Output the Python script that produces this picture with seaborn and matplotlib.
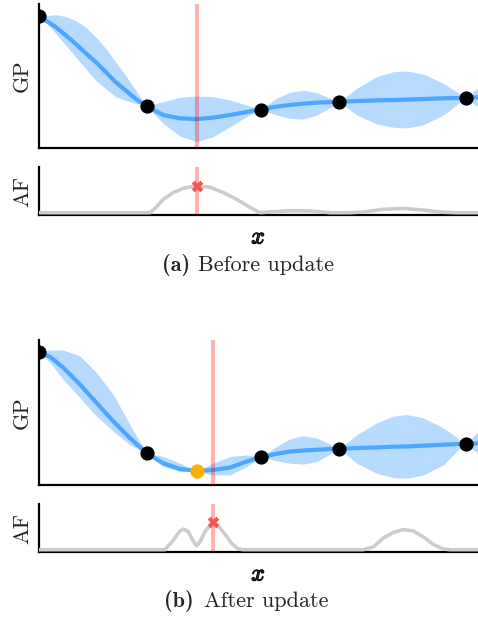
import matplotlib
matplotlib.use("Agg")
import matplotlib.pyplot as plt
import matplotlib.patheffects as pe
import seaborn as sns

# ---- GP posterior, before update (panel a) ----
grid_a = [0, 0.16, 0.39, 0.62, 0.84, 1.07, 1.30, 1.53, 1.75, 1.98, 2.21, 2.45,
          2.83, 3.21, 3.59, 3.97, 4.35, 4.73, 5.05, 5.41, 5.72, 6.02, 6.33, 6.63,
          6.84, 7.24, 7.69, 8.07, 8.38, 8.75, 9.21, 9.51, 9.73, 9.89, 10.0]
mean_a = [9.15, 8.84, 8.38, 7.80, 7.22, 6.57, 5.95, 5.25, 4.56, 3.98, 3.40, 2.90,
          2.29, 2.06, 2.01, 2.11, 2.29, 2.50, 2.67, 2.87, 2.99, 3.08, 3.15, 3.19,
          3.22, 3.26, 3.31, 3.33, 3.36, 3.40, 3.45, 3.47, 3.49, 3.52, 3.52]
upper_a = [9.15, 9.19, 9.26, 9.12, 8.84, 8.38, 7.69, 6.88, 5.95, 5.02, 3.98, 2.90,
           3.22, 3.52, 3.61, 3.56, 3.33, 2.99, 2.67, 3.45, 3.87, 4.01, 3.84, 3.45,
           3.22, 4.15, 4.95, 5.30, 5.35, 5.14, 4.49, 3.91, 3.49, 3.91, 4.19]
lower_a = [9.15, 8.73, 7.92, 7.10, 6.30, 5.49, 4.68, 4.10, 3.56, 3.29, 3.10, 2.90,
           1.71, 0.83, 0.44, 0.79, 1.48, 2.18, 2.67, 2.29, 2.06, 2.01, 2.29, 2.80,
           3.22, 2.29, 1.67, 1.44, 1.39, 1.60, 2.29, 2.99, 3.49, 3.10, 2.87]

# ---- GP posterior, after update (panel b) ----
grid_b = [0, 0.25, 0.55, 0.93, 1.31, 1.69, 2.07, 2.45, 2.83, 3.21, 3.59, 3.97,
          4.35, 4.73, 5.05, 5.41, 5.72, 6.02, 6.33, 6.63, 6.84, 7.24, 7.69, 8.07,
          8.38, 8.75, 9.21, 9.51, 9.73, 9.89, 10.0]
mean_b = [9.15, 8.84, 8.10, 6.94, 5.67, 4.40, 3.24, 2.20, 1.50, 1.11, 0.97, 1.04,
          1.20, 1.62, 1.92, 2.15, 2.31, 2.38, 2.43, 2.48, 2.50, 2.55, 2.59, 2.64,
          2.66, 2.71, 2.78, 2.82, 2.85, 2.86, 2.87]
upper_b = [9.15, 9.31, 9.31, 8.91, 7.75, 6.25, 4.17, 2.20, 1.97, 1.50, 0.97, 1.50,
           1.97, 2.08, 1.92, 2.66, 3.19, 3.40, 3.24, 2.82, 2.50, 3.47, 4.28, 4.75,
           4.86, 4.63, 3.94, 3.29, 2.85, 3.36, 3.66]
lower_b = [9.15, 8.45, 7.29, 6.02, 4.74, 3.70, 2.78, 2.20, 1.27, 0.93, 0.97, 0.69,
           0.69, 1.27, 1.92, 1.67, 1.50, 1.44, 1.62, 2.13, 2.50, 1.50, 0.81, 0.51,
           0.46, 0.69, 1.39, 2.31, 2.85, 2.43, 2.20]

# observations
obs_x = [0, 2.45, 5.05, 6.84, 9.73]
obs_y_a = [9.15, 2.90, 2.67, 3.22, 3.49]
obs_y_b = [9.15, 2.20, 1.92, 2.50, 2.85]
new_x, new_y = 3.59, 0.97

# acquisition functions
af_x_a = [0, 2.53, 2.68, 2.83, 3.06, 3.29, 3.59, 3.90, 4.20, 4.50, 4.81, 5.03,
          5.26, 5.72, 6.17, 6.63, 7.08, 7.39, 7.84, 8.30, 8.75, 9.21, 9.51, 10.0]
af_y_a = [0, 0, 0.125, 0.28, 0.42, 0.51, 0.56, 0.53, 0.42, 0.28, 0.11, 0,
          0.015, 0.04, 0.035, 0, 0, 0.015, 0.07, 0.09, 0.055, 0.01, 0, 0]
af_x_b = [0, 2.87, 3.06, 3.21, 3.30, 3.40, 3.52, 3.59, 3.67, 3.78, 3.90, 3.97,
          4.08, 4.24, 4.39, 4.54, 4.65, 7.39, 7.62, 7.84, 8.07, 8.30, 8.53, 8.75,
          8.98, 9.21, 9.36, 10.0]
af_y_b = [0, 0, 0.20, 0.39, 0.43, 0.375, 0.17, 0.083, 0.17, 0.375, 0.51, 0.55,
          0.50, 0.32, 0.13, 0.015, 0, 0, 0.06, 0.24, 0.36, 0.42, 0.39, 0.27,
          0.11, 0.015, 0, 0]

# next query (argmax of AF)
next_x_a, next_af_a = 3.59, 0.56
next_x_b, next_af_b = 3.96, 0.57

captions = [("(a)", "Before update"), ("(b)", "After update")]

sns.set_style("white")
plt.rcParams["font.family"] = ["cmr10", "DejaVu Serif"]
plt.rcParams["mathtext.fontset"] = "cm"
plt.rcParams["axes.formatter.use_mathtext"] = True

BLUE = "#4da6ff"
W, H = 478, 617
fig = plt.figure(figsize=(W / 100, H / 100), dpi=100)


def box(top, bottom):
    # pixel rows -> figure fraction rect
    return [39 / W, 1 - bottom / H, 1 - 39 / W, (bottom - top) / H]


def style(ax, ylim, label):
    ax.set_xlim(0, 10)
    ax.set_ylim(*ylim)
    ax.set_xticks([])
    ax.set_yticks([])
    for s in ["top", "right"]:
        ax.spines[s].set_visible(False)
    for s in ["left", "bottom"]:
        ax.spines[s].set_color("black")
        ax.spines[s].set_linewidth(1.6)
    ax.set_ylabel(label, fontsize=16, labelpad=5)
    ax.set_xlabel("")


def gp_panel(ax, grid, mean, upper, lower, obs_y, qx):
    ax.fill_between(grid, lower, upper, color=BLUE, alpha=0.4, linewidth=0)
    sns.lineplot(x=grid, y=mean, ax=ax, color=BLUE, linewidth=3, zorder=3)
    sns.scatterplot(x=obs_x, y=obs_y, ax=ax, color="black", s=105,
                    linewidth=0, zorder=5)
    ax.axvline(qx, color="red", alpha=0.3, linewidth=3, zorder=6)
    style(ax, (0, 10), "GP")


def af_panel(ax, xs, ys, qx, qy, caption, cap_y, split):
    sns.lineplot(x=xs, y=ys, ax=ax, color="#cccccc", linewidth=2.6, zorder=3)
    ax.axvline(qx, color="red", alpha=0.3, linewidth=3, zorder=4)
    sns.scatterplot(x=[qx], y=[qy], ax=ax, marker="X", color="#ff5050",
                    s=70, linewidth=0, zorder=5)
    style(ax, (-0.054, 0.946), "AF")
    ax.set_xlabel(r"$x$", fontsize=17, labelpad=8,
                  path_effects=[pe.withStroke(linewidth=0.9, foreground="black")])
    tag, text = caption
    fig.text(split[0] / W, 1 - cap_y / H, tag, family="cmb10",
             ha="right", va="center", fontsize=16)
    fig.text(split[1] / W, 1 - cap_y / H, text,
             ha="left", va="center", fontsize=16)


ax1 = fig.add_axes(box(4, 148))
gp_panel(ax1, grid_a, mean_a, upper_a, lower_a, obs_y_a, next_x_a)
ax2 = fig.add_axes(box(167.3, 215.3))
af_panel(ax2, af_x_a, af_y_a, next_x_a, next_af_a, captions[0], 265, (190, 198))

ax3 = fig.add_axes(box(340, 485))
gp_panel(ax3, grid_b, mean_b, upper_b, lower_b, obs_y_b, next_x_b)
sns.scatterplot(x=[new_x], y=[new_y], ax=ax3, color="#ffb000", s=105,
                linewidth=0, zorder=5)
ax4 = fig.add_axes(box(504.3, 552.3))
af_panel(ax4, af_x_b, af_y_b, next_x_b, next_af_b, captions[1], 601, (194, 204))

fig.savefig("out.png", dpi=100)
